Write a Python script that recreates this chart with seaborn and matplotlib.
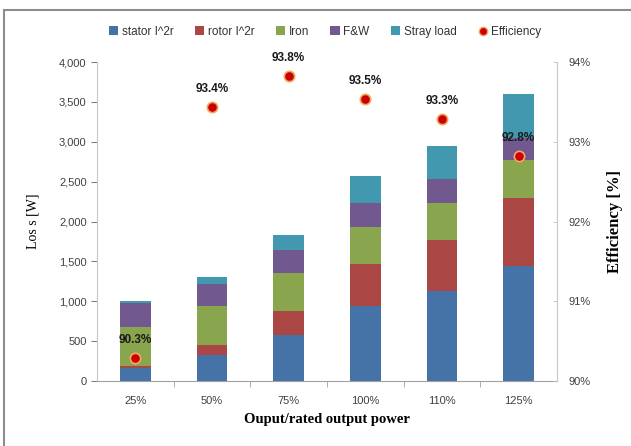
"""
Straty i sprawność silnika w funkcji obciążenia — wykres słupkowy skumulowany + sprawność.
"""

import numpy as np
import matplotlib
matplotlib.use('Agg')
import matplotlib.pyplot as plt
from matplotlib.patches import Patch, Rectangle
from matplotlib.lines import Line2D
from matplotlib.ticker import FuncFormatter, FixedLocator
import seaborn as sns

# dane
load_levels = ['25%', '50%', '75%', '100%', '110%', '125%']
stator_loss = [160, 320, 575, 945, 1130, 1440]
rotor_loss = [30, 130, 305, 525, 640, 860]
iron_loss = [490, 485, 475, 460, 460, 470]
fw_loss = [300, 285, 285, 300, 300, 280]
stray_loss = [20, 90, 190, 345, 420, 550]
efficiency = [90.29, 93.44, 93.82, 93.53, 93.29, 92.82]
eff_labels = ['90.3%', '93.4%', '93.8%', '93.5%', '93.3%', '92.8%']

series_names = ['stator I^2r', 'rotor I^2r', 'Iron', 'F&W', 'Stray load']
series_colors = ['#4572A7', '#AA4643', '#89A54E', '#71588F', '#4198AF']

sns.set_style('white')
plt.rcParams['font.family'] = ['Liberation Sans', 'DejaVu Sans']

fig = plt.figure(figsize=(6.31, 4.46), dpi=100)
ax = fig.add_axes([97 / 631, 65 / 446, 460 / 631, 319 / 446])

# słupki skumulowane — rysowane od najwyższej sumy do najniższej
layers = [stator_loss, rotor_loss, iron_loss, fw_loss, stray_loss]
cum = np.cumsum(np.array(layers), axis=0)
for i in range(len(layers) - 1, -1, -1):
    sns.barplot(x=load_levels, y=cum[i], order=load_levels, color=series_colors[i],
                saturation=1, width=0.4, ax=ax, linewidth=0)

ax.set_ylim(0, 4000)
ax.set_yticks(np.arange(0, 4001, 500))
ax.yaxis.set_major_formatter(FuncFormatter(lambda v, p: f'{int(v):,}'))
ax.set_xlim(-0.5, 5.5)
ax.set_xlabel('Ouput/rated output power', family='Liberation Serif', fontweight='bold',
              fontsize=10.5, labelpad=5, color='black')
ax.set_ylabel('Los s [W]', family='Liberation Serif', fontsize=10, labelpad=14, color='black')
ax.tick_params(axis='y', labelsize=8, colors='#606060', labelcolor='#404040',
               length=4, width=0.6, direction='out', left=True)
ax.tick_params(axis='x', which='major', labelsize=8, labelcolor='#404040', length=0, pad=11)
ax.xaxis.set_minor_locator(FixedLocator(np.arange(0.5, 5, 1)))
ax.tick_params(axis='x', which='minor', length=4, width=0.6, color='#a0a0a0',
               direction='out', bottom=True)
ax.spines['top'].set_visible(False)
ax.spines['bottom'].set_color('#a0a0a0')
ax.spines['left'].set_color('#c8c8c8')
ax.spines['right'].set_visible(False)

# oś sprawności
ax2 = ax.twinx()
x_pos = np.arange(len(load_levels))
sns.scatterplot(x=x_pos, y=efficiency, ax=ax2, color='#CC0000', s=55,
                edgecolor='#F2A860', linewidth=1.2, zorder=5)
for xp, yv, lab in zip(x_pos, efficiency, eff_labels):
    ax2.annotate(lab, (xp, yv), xytext=(0, 13), textcoords='offset points',
                 ha='center', va='center', fontsize=8.5, fontweight='bold', color='#1a1a1a')
ax2.set_ylim(90, 94)
ax2.set_yticks(np.arange(90, 94.01, 1))
ax2.yaxis.set_major_formatter(FuncFormatter(lambda v, p: f'{v:.0f}%'))
ax2.set_xlim(-0.5, 5.5)
ax2.set_ylabel('Efficiency [%]', family='Liberation Serif', fontweight='bold',
               fontsize=12, labelpad=12, color='black')
ax2.tick_params(axis='y', labelsize=8, labelcolor='#404040', colors='#c0c0c0',
                length=3, width=0.6, direction='in', right=True, pad=8)
for side in ['top', 'left', 'bottom']:
    ax2.spines[side].set_visible(False)
ax2.spines['right'].set_color('#c8c8c8')

# legenda
handles = [Patch(facecolor=c, edgecolor='none') for c in series_colors]
handles.append(Line2D([], [], marker='o', linestyle='none', markersize=6,
                      markerfacecolor='#CC0000', markeredgecolor='#F2A860'))
labels = series_names + ['Efficiency']
fig.legend(handles, labels, loc='center', bbox_to_anchor=(325 / 631, 1 - 32 / 446),
           ncol=6, frameon=False, fontsize=8.5, handlelength=0.8, handleheight=0.8,
           handletextpad=0.3, columnspacing=1.8, labelcolor='#333333')

# ramka wokół wykresu
fig.patches.append(Rectangle((4 / 631, -0.02), 1.0, 1 - 10 / 446 + 0.02,
                             transform=fig.transFigure, fill=False,
                             edgecolor='#8c8c8c', linewidth=1.5))

plt.savefig('out.png', dpi=100)
plt.close()
